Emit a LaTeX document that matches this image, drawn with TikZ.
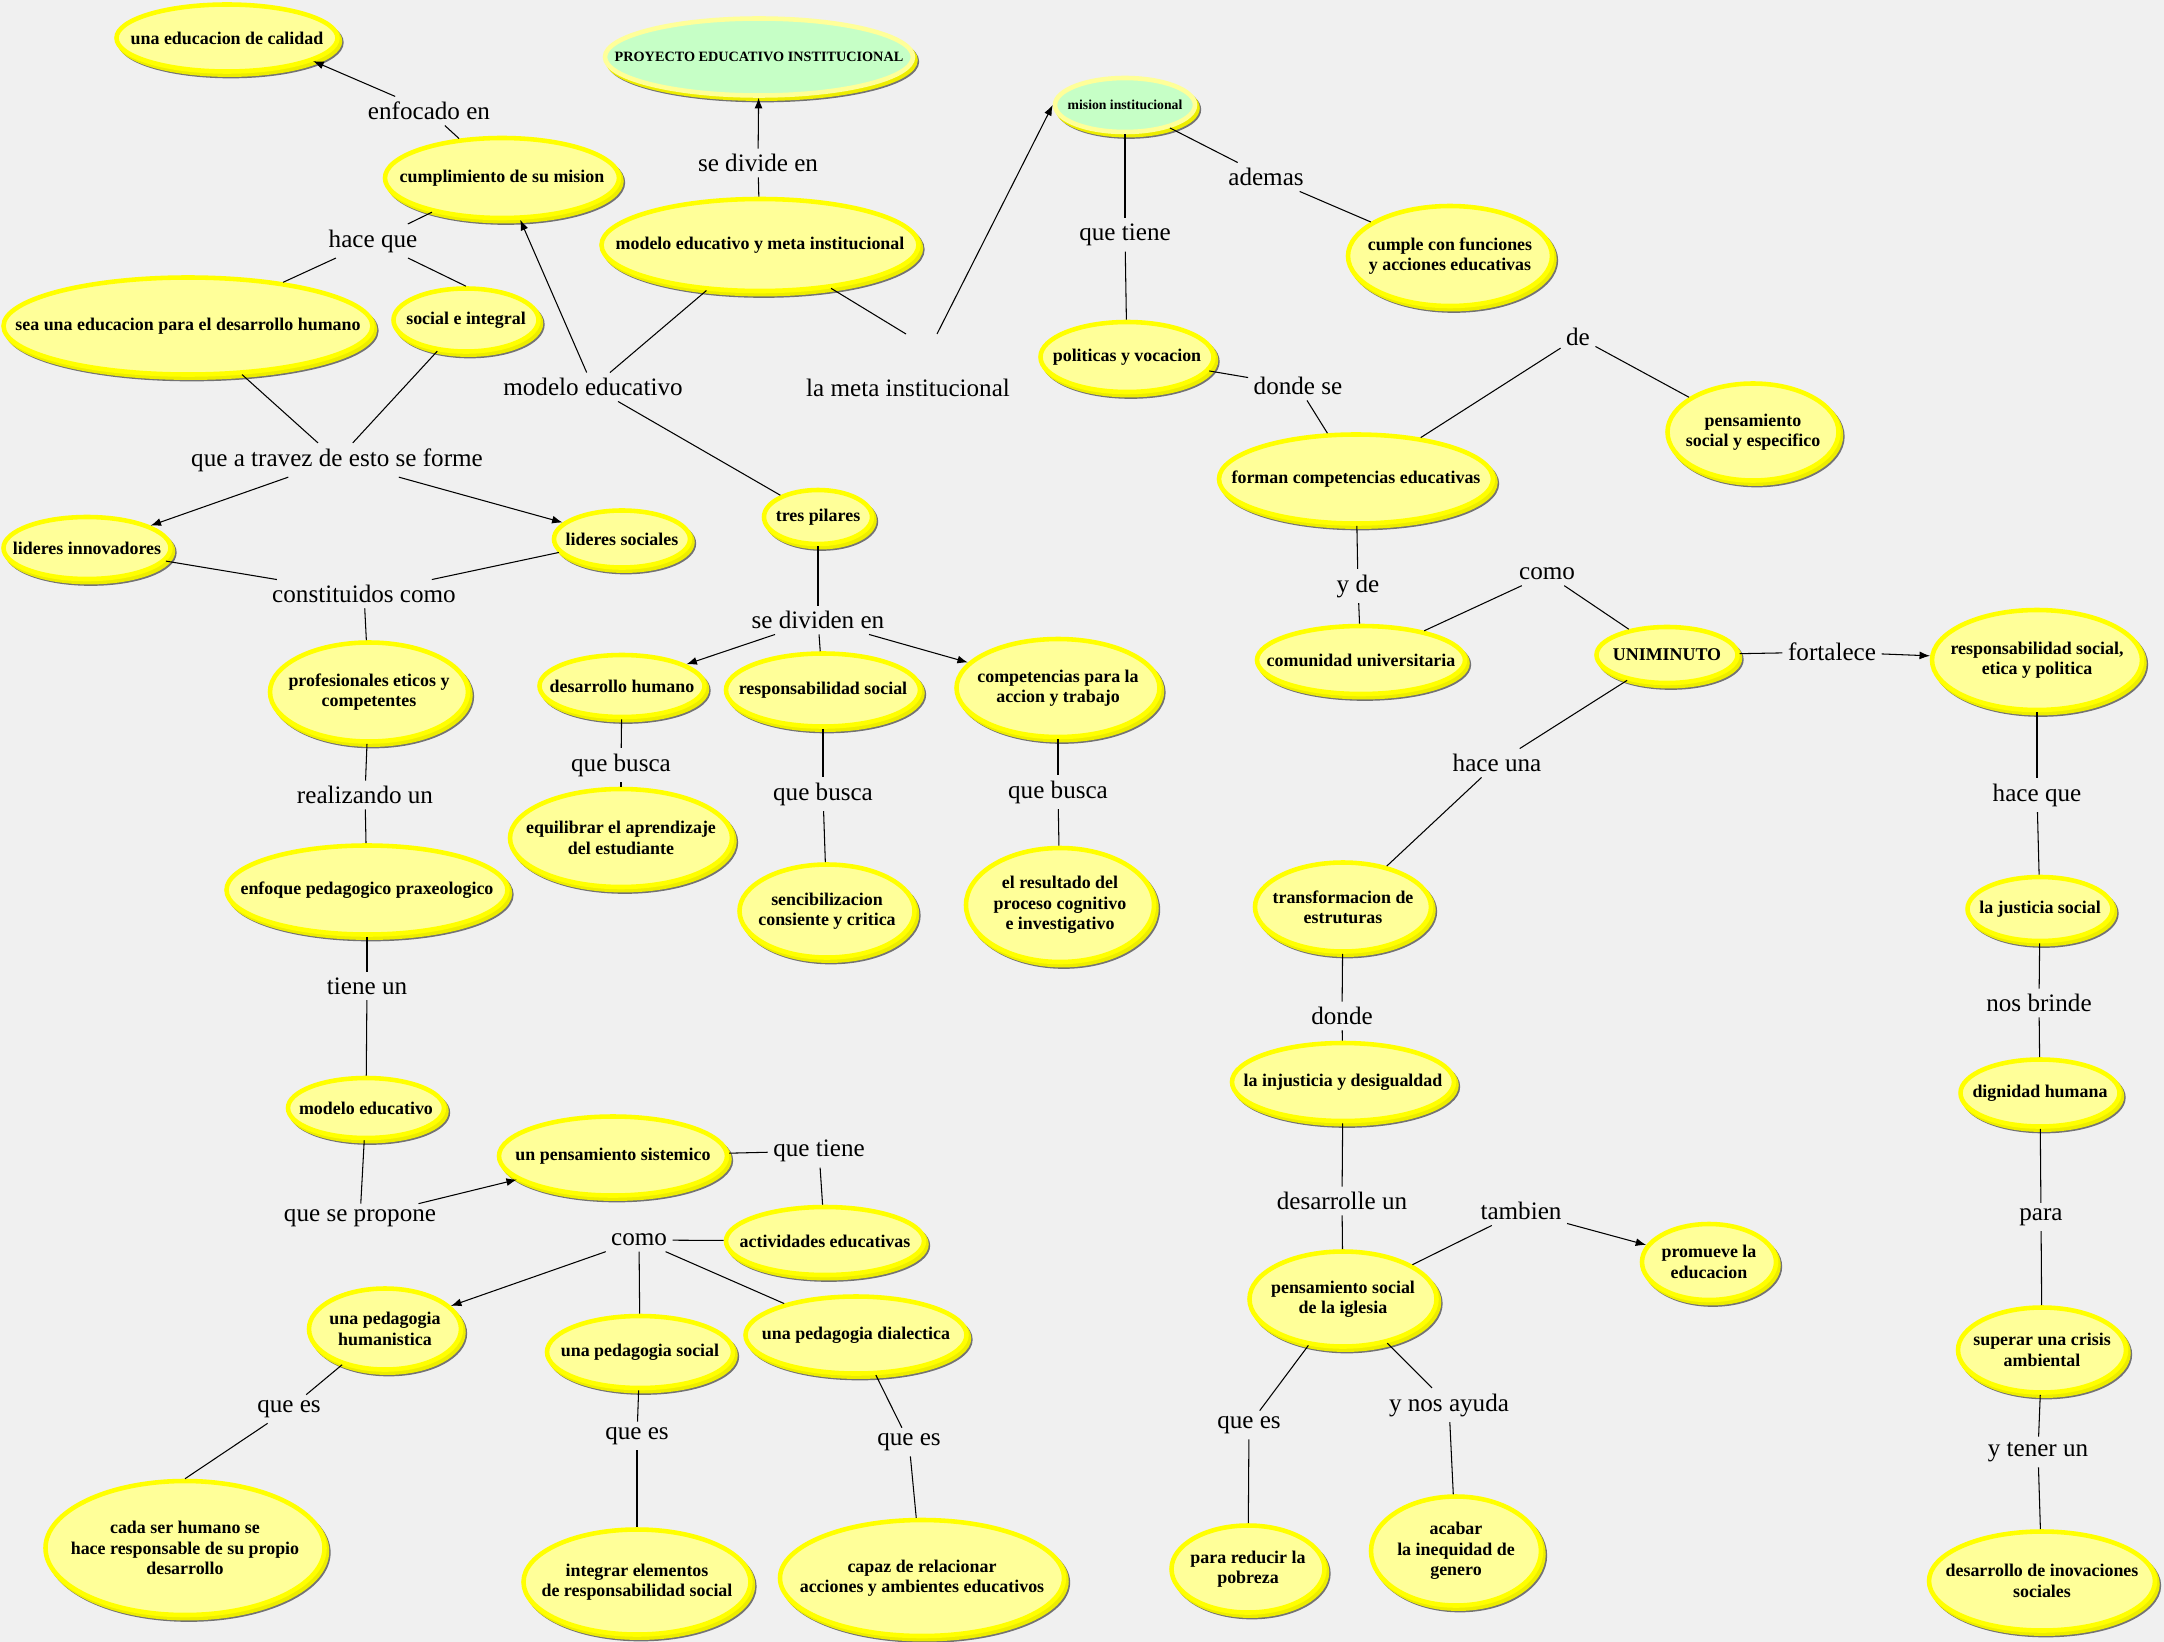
\documentclass[tikz,border=0pt]{standalone}
\usepackage{fontspec}
\setmainfont{Liberation Serif}
\usetikzlibrary{shapes.geometric,arrows.meta,shadows}
\definecolor{fondo}{HTML}{F0F0F0}
\definecolor{crema}{HTML}{FFFF99}
\definecolor{amarillo}{HTML}{FFFF00}
\definecolor{verde}{HTML}{C6FFC6}
\begin{document}
\begin{tikzpicture}[x=0.02cm,y=-0.02cm,
    con/.style={ellipse,draw=amarillo,fill=crema,line width=2.6pt,inner sep=0pt,
      general shadow={fill=black!55,draw=black!55,line width=2.6pt,shadow xshift=2.2pt,shadow yshift=-2.6pt},
      general shadow={fill=amarillo,draw=amarillo!93!black,line width=2.6pt,shadow xshift=1.4pt,shadow yshift=-1.8pt}},
    verd/.style={con,draw=crema,fill=verde},
    sz/.style 2 args={minimum width={(#1-7)*0.02cm},minimum height={(#2-7)*0.02cm}},
    txt/.style={font=\fontsize{10.2}{11.6}\selectfont\bfseries,align=center},
    lbl/.style={font=\fontsize{14.3}{17}\selectfont,inner sep=3pt},
    ln/.style={line width=0.6pt},
    fl/.style={ln,-{Latex[length=6pt,width=4.5pt]}}]
    \useasboundingbox (0,0) rectangle (2164,1642);
    \fill[fondo] (0,0) rectangle (2164,1642);

    \node[con,sz={228}{74},label={[txt]center:una educacion de calidad}] (calidad) at (227,38) {};
    \node[verd,sz={315}{84},label={[txt,font=\fontsize{8.1}{9}\selectfont\bfseries]center:PROYECTO EDUCATIVO INSTITUCIONAL}] (proyecto) at (759,57) {};
    \node[verd,sz={147}{61},label={[txt,font=\fontsize{7.8}{9}\selectfont\bfseries]center:mision institucional}] (mision) at (1125,105) {};
    \node[con,sz={241}{87},label={[txt]center:cumplimiento de su mision}] (cumplimiento) at (502,178) {};
    \node[con,sz={324}{99},label={[txt]center:modelo educativo y meta institucional}] (modmeta) at (760,245) {};
    \node[con,sz={376}{104},label={[txt]center:sea una educacion para el desarrollo humano}] (seauna) at (188,326) {};
    \node[con,sz={152}{70},label={[txt]center:social e integral}] (socint) at (466,320) {};
    \node[con,sz={174}{69},label={[txt]center:lideres innovadores}] (lidinn) at (87,548) {};
    \node[con,sz={143}{64},label={[txt]center:lideres sociales}] (lidsoc) at (622,539) {};
    \node[con,sz={115}{61},label={[txt]center:tres pilares}] (trespil) at (818,517) {};
    \node[con,sz={205}{106},label={[txt]center:{profesionales eticos y\\competentes}}] (profes) at (369,692) {};
    \node[con,sz={172}{69},label={[txt]center:desarrollo humano}] (deshum) at (622,686) {};
    \node[con,sz={201}{80},label={[txt]center:responsabilidad social}] (respsoc) at (823,690) {};
    \node[con,sz={210}{105},label={[txt]center:{competencias para la\\accion y trabajo}}] (compet) at (1058,688) {};
    \node[con,sz={229}{105},label={[txt]center:{equilibrar el aprendizaje\\del estudiante}}] (equil) at (621,838) {};
    \node[con,sz={182}{100},label={[txt]center:{sencibilizacion\\consiente y critica}}] (sencib) at (827,911) {};
    \node[con,sz={195}{121},label={[txt]center:{el resultado del\\proceso cognitivo\\e investigativo}}] (result) at (1060,905) {};
    \node[con,sz={288}{96},label={[txt]center:enfoque pedagogico praxeologico}] (enfoque) at (367,890) {};
    \node[con,sz={163}{67},label={[txt]center:modelo educativo}] (modelo) at (366,1108) {};
    \node[con,sz={235}{86},label={[txt]center:un pensamiento sistemico}] (pensis) at (613,1156) {};
    \node[con,sz={205}{75},label={[txt]center:actividades educativas}] (activ) at (825,1241) {};
    \node[con,sz={159}{88},label={[txt]center:{una pedagogia\\humanistica}}] (pedhum) at (385,1329) {};
    \node[con,sz={193}{79},label={[txt]center:una pedagogia social}] (pedsoc) at (640,1352) {};
    \node[con,sz={228}{84},label={[txt]center:una pedagogia dialectica}] (peddia) at (856,1335) {};
    \node[con,sz={286}{141},label={[txt]center:{cada ser humano se\\hace responsable de su propio\\desarrollo}}] (cada) at (185,1548) {};
    \node[con,sz={234}{112},label={[txt]center:{integrar elementos\\de responsabilidad social}}] (integrar) at (637,1582) {};
    \node[con,sz={291}{123},label={[txt]center:{capaz de relacionar\\acciones y ambientes educativos}}] (capaz) at (922,1578) {};
    \node[con,sz={211}{107},label={[txt]center:{cumple con funciones\\y acciones educativas}}] (cumple) at (1450,256) {};
    \node[con,sz={180}{77},label={[txt]center:politicas y vocacion}] (politicas) at (1127,357) {};
    \node[con,sz={281}{96},label={[txt]center:forman competencias educativas}] (forman) at (1356,479) {};
    \node[con,sz={178}{104},label={[txt]center:{pensamiento\\social y especifico}}] (penesp) at (1753,432) {};
    \node[con,sz={215}{75},label={[txt]center:comunidad universitaria}] (comunidad) at (1361,660) {};
    \node[con,sz={148}{63},label={[txt]center:UNIMINUTO}] (unimin) at (1667,655) {};
    \node[con,sz={217}{107},label={[txt]center:{responsabilidad social,\\etica y politica}}] (respetica) at (2037,660) {};
    \node[con,sz={183}{96},label={[txt]center:{transformacion de\\estruturas}}] (transf) at (1343,907) {};
    \node[con,sz={229}{85},label={[txt]center:la injusticia y desigualdad}] (injust) at (1343,1082) {};
    \node[con,sz={194}{102},label={[txt]center:{pensamiento social\\de la iglesia}}] (iglesia) at (1343,1299) {};
    \node[con,sz={141}{83},label={[txt]center:{promueve la\\educacion}}] (promueve) at (1709,1262) {};
    \node[con,sz={160}{94},label={[txt]center:{para reducir la\\pobreza}}] (pobreza) at (1248,1569) {};
    \node[con,sz={177}{116},label={[txt]center:{acabar\\la inequidad de\\genero}}] (acabar) at (1456,1551) {};
    \node[con,sz={152}{71},label={[txt]center:la justicia social}] (justicia) at (2040,909) {};
    \node[con,sz={166}{74},label={[txt]center:dignidad humana}] (dignidad) at (2040,1093) {};
    \node[con,sz={175}{92},label={[txt]center:{superar una crisis\\ambiental}}] (crisis) at (2042,1350) {};
    \node[con,sz={233}{106},label={[txt]center:{desarrollo de inovaciones\\sociales}}] (inovac) at (2042,1581) {};

    \node[lbl] (lenf) at (429,111) {enfocado en};
    \node[lbl] (lhace) at (373,241) {hace que};
    \node[lbl] (lsediv) at (758,163) {se divide en};
    \node[lbl] (lmodelo) at (593,387) {modelo educativo};
    \node[lbl] (lmeta) at (908,388) {la meta institucional};
    \coordinate (metaL) at (906,334);
    \coordinate (metaR) at (937,334);
    \node[lbl] (ltravez) at (337,460) {que a travez de esto se forme};
    \node[lbl] (lconst) at (364,594) {constituidos como};
    \node[lbl] (lrealiz) at (365,795) {realizando un};
    \node[lbl] (ltiene) at (367,986) {tiene un};
    \node[lbl] (lpropone) at (360,1218) {que se propone};
    \node[lbl] (lquetiene) at (819,1151) {que tiene};
    \node[lbl] (lcomo) at (639,1240) {como};
    \node[lbl] (lqueesa) at (289,1409) {que es};
    \node[lbl] (lqueesb) at (637,1436) {que es};
    \node[lbl] (lqueesc) at (909,1442) {que es};
    \node[lbl] (ldividen) at (818,620) {se dividen en};
    \node[lbl] (lbusca1) at (621,765) {que busca};
    \node[lbl] (lbusca2) at (823,794) {que busca};
    \node[lbl] (lbusca3) at (1058,792) {que busca};
    \node[lbl] (lquetiene2) at (1125,235) {que tiene};
    \node[lbl] (lademas) at (1266,177) {ademas};
    \node[lbl] (ldondese) at (1298,386) {donde se};
    \node[lbl] (lde) at (1578,337) {de};
    \node[lbl] (lyde) at (1358,586) {y de};
    \node[lbl] (lcomo2) at (1547,574) {como};
    \node[lbl] (lfort) at (1832,652) {fortalece};
    \node[lbl] (lhaceuna) at (1497,763) {hace una};
    \node[lbl] (lhaceque2) at (2037,795) {hace que};
    \node[lbl] (ldonde) at (1342,1016) {donde};
    \node[lbl] (ldesarr) at (1342,1201) {desarrolle un};
    \node[lbl] (ltambien) at (1521,1211) {tambien};
    \node[lbl] (lqueesd) at (1249,1425) {que es};
    \node[lbl] (layuda) at (1449,1405) {y nos ayuda};
    \node[lbl] (lbrinde) at (2039,1003) {nos brinde};
    \node[lbl] (lpara) at (2041,1217) {para};
    \node[lbl] (ltener) at (2038,1452) {y tener un};

    \draw[ln] (cumplimiento) -- (lenf);
    \draw[fl] (lenf) -- (calidad.-15);
    \draw[ln] (cumplimiento) -- (lhace);
    \draw[ln] (lhace) -- (seauna);
    \draw[ln] (lhace) -- (socint.north);
    \draw[ln] (seauna) -- (ltravez);
    \draw[ln] (socint) -- (ltravez);
    \draw[fl] (ltravez) -- (lidinn);
    \draw[fl] (ltravez) -- (lidsoc);
    \draw[ln] (lidinn) -- (lconst);
    \draw[ln] (lidsoc) -- (lconst);
    \draw[ln] (lconst) -- (profes);
    \draw[ln] (profes) -- (lrealiz);
    \draw[ln] (lrealiz) -- (enfoque);
    \draw[ln] (enfoque) -- (ltiene);
    \draw[ln] (ltiene) -- (modelo);
    \draw[ln] (modelo) -- (lpropone);
    \draw[fl] (lpropone) -- (pensis);
    \draw[ln] (pensis) -- (lquetiene);
    \draw[ln] (lquetiene) -- (activ);
    \draw[ln] (activ) -- (lcomo);
    \draw[fl] (lcomo) -- (pedhum);
    \draw[ln] (lcomo) -- (pedsoc);
    \draw[ln] (lcomo) -- (peddia);
    \draw[ln] (pedhum) -- (lqueesa);
    \draw[ln] (lqueesa) -- (cada.north);
    \draw[ln] (pedsoc) -- (lqueesb);
    \draw[ln] (lqueesb) -- (integrar);
    \draw[ln] (peddia) -- (lqueesc);
    \draw[ln] (lqueesc) -- (capaz);
    \draw[ln] (modmeta) -- (lsediv);
    \draw[fl] (lsediv) -- (proyecto);
    \draw[ln] (modmeta) -- (lmodelo);
    \draw[fl] (lmodelo) -- (cumplimiento);
    \draw[ln] (lmodelo) -- (trespil);
    \draw[ln] (modmeta) -- (metaL);
    \draw[fl] (metaR) -- (mision.west);
    \draw[ln] (trespil) -- (ldividen);
    \draw[fl] (ldividen) -- (deshum);
    \draw[ln] (ldividen) -- (respsoc);
    \draw[fl] (ldividen) -- (compet);
    \draw[ln] (deshum) -- (lbusca1);
    \draw[ln] (lbusca1) -- (equil);
    \draw[ln] (respsoc) -- (lbusca2);
    \draw[ln] (lbusca2) -- (sencib);
    \draw[ln] (compet) -- (lbusca3);
    \draw[ln] (lbusca3) -- (result);
    \draw[ln] (mision) -- (lquetiene2);
    \draw[ln] (lquetiene2) -- (politicas);
    \draw[ln] (mision) -- (lademas);
    \draw[ln] (lademas) -- (cumple);
    \draw[ln] (politicas) -- (ldondese);
    \draw[ln] (ldondese) -- (forman);
    \draw[ln] (forman) -- (lde);
    \draw[ln] (lde) -- (penesp);
    \draw[ln] (forman) -- (lyde);
    \draw[ln] (lyde) -- (comunidad);
    \draw[ln] (comunidad) -- (lcomo2);
    \draw[ln] (lcomo2) -- (unimin);
    \draw[ln] (unimin) -- (lfort);
    \draw[fl] (lfort) -- (respetica);
    \draw[ln] (unimin) -- (lhaceuna);
    \draw[ln] (lhaceuna) -- (transf);
    \draw[ln] (transf) -- (ldonde);
    \draw[ln] (ldonde) -- (injust);
    \draw[ln] (injust) -- (ldesarr);
    \draw[ln] (ldesarr) -- (iglesia);
    \draw[ln] (iglesia) -- (ltambien);
    \draw[fl] (ltambien) -- (promueve);
    \draw[ln] (iglesia) -- (lqueesd);
    \draw[ln] (lqueesd) -- (pobreza);
    \draw[ln] (iglesia) -- (layuda);
    \draw[ln] (layuda) -- (acabar);
    \draw[ln] (respetica) -- (lhaceque2);
    \draw[ln] (lhaceque2) -- (justicia);
    \draw[ln] (justicia) -- (lbrinde);
    \draw[ln] (lbrinde) -- (dignidad);
    \draw[ln] (dignidad) -- (lpara);
    \draw[ln] (lpara) -- (crisis);
    \draw[ln] (crisis) -- (ltener);
    \draw[ln] (ltener) -- (inovac);
\end{tikzpicture}
\end{document}
